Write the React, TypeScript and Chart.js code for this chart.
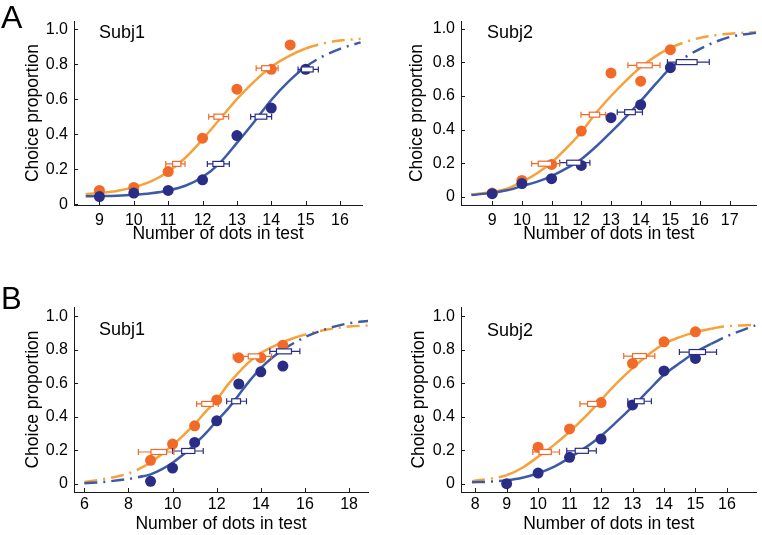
import React, { useEffect, useRef } from 'react';
import { Chart, registerables } from 'chart.js';

Chart.register(...registerables);

// ---------------- Data ----------------
const Y_TICKS = [0, 0.2, 0.4, 0.6, 0.8, 1.0];
const Y_TICK_LABELS = ['0', '0.2', '0.4', '0.6', '0.8', '1.0'];

// marker rows: [y, boxLow, boxHigh, whiskerLow, whiskerHigh]
type MarkerRow = [number, number, number, number, number];

// Panel A, Subj1
const A1_X_TICKS = [9, 10, 11, 12, 13, 14, 15, 16];
const A1_CURVE_X = [8.6, 9, 9.5, 10, 10.5, 11, 11.5, 12, 12.5, 13, 13.5, 14, 14.5, 15, 15.5, 16, 16.6];
const A1_ORANGE_CURVE_Y = [0.058, 0.064, 0.075, 0.097, 0.13, 0.185, 0.265, 0.37, 0.485, 0.6, 0.7, 0.785, 0.845, 0.89, 0.918, 0.935, 0.945];
const A1_BLUE_CURVE_Y = [0.045, 0.046, 0.048, 0.053, 0.062, 0.078, 0.105, 0.155, 0.235, 0.35, 0.47, 0.595, 0.7, 0.785, 0.845, 0.888, 0.925];
const A1_ORANGE_SOLID = [8.6, 15];
const A1_BLUE_SOLID = [8.6, 15];
const A1_ORANGE_DOT_X = [9, 10, 11, 12, 13, 14, 14.55];
const A1_ORANGE_DOT_Y = [0.078, 0.095, 0.186, 0.377, 0.657, 0.771, 0.91];
const A1_BLUE_DOT_X = [9, 10, 11, 12, 13, 14, 15];
const A1_BLUE_DOT_Y = [0.043, 0.063, 0.078, 0.139, 0.392, 0.549, 0.771];
const A1_ORANGE_MARKERS: MarkerRow[] = [[0.23, 11.13, 11.37, 10.93, 11.49], [0.5, 12.33, 12.6, 12.18, 12.76], [0.777, 13.72, 13.98, 13.56, 14.2]];
const A1_BLUE_MARKERS: MarkerRow[] = [[0.23, 12.3, 12.62, 12.14, 12.78], [0.5, 13.53, 13.87, 13.4, 14.01], [0.77, 14.88, 15.22, 14.78, 15.37]];

// Panel A, Subj2
const A2_X_TICKS = [9, 10, 11, 12, 13, 14, 15, 16, 17];
const A2_CURVE_X = [8.3, 9, 9.5, 10, 10.5, 11, 11.5, 12, 12.5, 13, 13.5, 14, 14.5, 15, 15.5, 16, 16.5, 17, 17.9];
const A2_ORANGE_CURVE_Y = [0.015, 0.03, 0.05, 0.09, 0.14, 0.205, 0.29, 0.385, 0.5, 0.6, 0.69, 0.77, 0.835, 0.885, 0.92, 0.945, 0.96, 0.97, 0.978];
const A2_BLUE_CURVE_Y = [0.012, 0.025, 0.04, 0.065, 0.09, 0.125, 0.17, 0.225, 0.3, 0.385, 0.475, 0.57, 0.67, 0.765, 0.83, 0.88, 0.92, 0.95, 0.975];
const A2_ORANGE_SOLID = [8.3, 15];
const A2_BLUE_SOLID = [8.3, 15];
const A2_ORANGE_DOT_X = [9, 10, 11, 12, 13, 14, 15];
const A2_ORANGE_DOT_Y = [0.024, 0.099, 0.194, 0.392, 0.736, 0.688, 0.875];
const A2_BLUE_DOT_X = [9, 10, 11, 12, 13, 14, 15];
const A2_BLUE_DOT_Y = [0.02, 0.08, 0.109, 0.188, 0.471, 0.548, 0.768];
const A2_ORANGE_MARKERS: MarkerRow[] = [[0.198, 10.55, 11.0, 10.33, 11.27], [0.489, 12.27, 12.62, 11.99, 12.82], [0.782, 13.87, 14.39, 13.57, 14.65]];
const A2_BLUE_MARKERS: MarkerRow[] = [[0.204, 11.51, 11.99, 11.27, 12.29], [0.504, 13.46, 13.82, 13.21, 14.06], [0.801, 15.2, 15.9, 14.9, 16.31]];

// Panel B, Subj1
const B1_X_TICKS = [6, 8, 10, 12, 14, 16, 18];
const B1_ORANGE_CURVE_X = [6, 7, 8, 8.8, 9, 9.5, 10, 10.5, 11, 11.5, 12, 12.5, 13, 13.5, 14, 14.5, 15, 15.5, 16, 17, 18, 18.9];
const B1_ORANGE_CURVE_Y = [0.01, 0.03, 0.06, 0.11, 0.125, 0.175, 0.23, 0.29, 0.355, 0.43, 0.5, 0.59, 0.665, 0.73, 0.78, 0.815, 0.845, 0.87, 0.89, 0.92, 0.938, 0.945];
const B1_BLUE_CURVE_X = [6, 7, 8, 8.7, 9, 9.5, 10, 10.5, 11, 11.5, 12, 12.5, 13, 13.5, 14, 14.5, 15, 15.5, 16, 17, 18, 18.9];
const B1_BLUE_CURVE_Y = [0.002, 0.012, 0.028, 0.045, 0.055, 0.085, 0.125, 0.175, 0.235, 0.3, 0.375, 0.445, 0.53, 0.615, 0.69, 0.75, 0.8, 0.84, 0.875, 0.925, 0.958, 0.972];
const B1_ORANGE_SOLID = [8.8, 15.5];
const B1_BLUE_SOLID = [8.7, 15];
const B1_ORANGE_DOT_X = [9, 10, 11, 12, 13, 14, 15];
const B1_ORANGE_DOT_Y = [0.139, 0.236, 0.345, 0.5, 0.752, 0.752, 0.827];
const B1_BLUE_DOT_X = [9, 10, 11, 12, 13, 14, 15];
const B1_BLUE_DOT_Y = [0.014, 0.093, 0.246, 0.375, 0.595, 0.668, 0.702];
const B1_ORANGE_MARKERS: MarkerRow[] = [[0.189, 9.02, 9.73, 8.45, 10.06], [0.476, 11.32, 11.84, 11.09, 12.07], [0.76, 13.43, 13.96, 12.75, 14.49]];
const B1_BLUE_MARKERS: MarkerRow[] = [[0.195, 10.41, 11.01, 10.0, 11.39], [0.492, 12.68, 13.08, 12.45, 13.35], [0.79, 14.71, 15.39, 14.41, 15.77]];

// Panel B, Subj2
const B2_X_TICKS = [8, 9, 10, 11, 12, 13, 14, 15, 16];
const B2_CURVE_X = [7.9, 8.5, 9, 9.5, 10, 10.5, 11, 11.5, 12, 12.5, 13, 13.5, 14, 14.5, 15, 15.5, 16, 16.9];
const B2_ORANGE_CURVE_Y = [0.015, 0.03, 0.05, 0.095, 0.16, 0.23, 0.31, 0.4, 0.5, 0.6, 0.69, 0.77, 0.835, 0.875, 0.905, 0.925, 0.94, 0.948];
const B2_BLUE_CURVE_Y = [0.008, 0.012, 0.02, 0.035, 0.062, 0.1, 0.155, 0.215, 0.285, 0.37, 0.46, 0.555, 0.65, 0.72, 0.785, 0.835, 0.88, 0.945];
const B2_ORANGE_SOLID = [9, 15.5];
const B2_BLUE_SOLID = [9, 15.5];
const B2_ORANGE_DOT_X = [10, 11, 12, 13, 14, 15];
const B2_ORANGE_DOT_Y = [0.218, 0.327, 0.484, 0.718, 0.847, 0.907];
const B2_BLUE_DOT_X = [9, 10, 11, 12, 13, 14, 15];
const B2_BLUE_DOT_Y = [0.0, 0.063, 0.157, 0.266, 0.47, 0.673, 0.748];
const B2_ORANGE_MARKERS: MarkerRow[] = [[0.189, 10.03, 10.42, 9.83, 10.68], [0.476, 11.57, 11.88, 11.33, 12.09], [0.762, 13.0, 13.44, 12.72, 13.71]];
const B2_BLUE_MARKERS: MarkerRow[] = [[0.196, 11.18, 11.6, 10.91, 11.85], [0.492, 13.06, 13.37, 12.85, 13.6], [0.786, 14.8, 15.32, 14.49, 15.67]];

// ---------------- Styles ----------------
const FONT = '"Liberation Sans", Arial, Helvetica, sans-serif';
const ORANGE_LINE = '#F6A13A';
const ORANGE_DOT = '#F26A28';
const BLUE_LINE = '#3C5AA6';
const BLUE_DOT = '#2A2D86';
const AXIS = '#1a1a1a';
const DASH = [13, 6, 2, 6];

const pts = (xs: number[], ys: number[]) => xs.map((x, i) => ({ x, y: ys[i] }));

const markerPlugin = {
  id: 'boxMarkers',
  afterDatasetsDraw(chart: any, _args: any, opts: any) {
    const { ctx } = chart;
    const xs = chart.scales.x;
    const ys = chart.scales.y;
    (opts.groups || []).forEach((g: any) => {
      ctx.save();
      ctx.strokeStyle = g.color;
      ctx.lineWidth = 1.2;
      ctx.fillStyle = '#ffffff';
      g.rows.forEach((r: MarkerRow) => {
        const py = ys.getPixelForValue(r[0]);
        const b0 = xs.getPixelForValue(r[1]);
        const b1 = xs.getPixelForValue(r[2]);
        const w0 = xs.getPixelForValue(r[3]);
        const w1 = xs.getPixelForValue(r[4]);
        ctx.beginPath();
        ctx.moveTo(w0, py); ctx.lineTo(b0, py);
        ctx.moveTo(b1, py); ctx.lineTo(w1, py);
        ctx.moveTo(w0, py - 3); ctx.lineTo(w0, py + 3);
        ctx.moveTo(w1, py - 3); ctx.lineTo(w1, py + 3);
        ctx.stroke();
        ctx.fillRect(b0, py - 2.5, b1 - b0, 5);
        ctx.strokeRect(b0, py - 2.5, b1 - b0, 5);
      });
      ctx.restore();
    });
  },
  afterDraw(chart: any) {
    const { ctx } = chart;
    const xs = chart.scales.x;
    const ys = chart.scales.y;
    ctx.save();
    ctx.strokeStyle = AXIS;
    ctx.lineWidth = 1;
    ctx.beginPath();
    xs.ticks.forEach((t: any) => {
      const px = Math.round(xs.getPixelForValue(t.value)) + 0.5;
      ctx.moveTo(px, xs.top);
      ctx.lineTo(px, xs.top - 4);
    });
    ys.ticks.forEach((t: any) => {
      const py = Math.round(ys.getPixelForValue(t.value)) + 0.5;
      ctx.moveTo(ys.right, py);
      ctx.lineTo(ys.right + 4, py);
    });
    ctx.stroke();
    ctx.restore();
  },
};

interface PanelSpec {
  left: number; top: number; width: number; height: number;
  padTop: number; padRight: number; yWidth: number; xHeight: number;
  xMin: number; xMax: number; yMin: number; yMax: number;
  xTicks: number[];
  orangeCurveX: number[]; orangeCurveY: number[]; orangeSolid: number[];
  blueCurveX: number[]; blueCurveY: number[]; blueSolid: number[];
  orangeDotX: number[]; orangeDotY: number[];
  blueDotX: number[]; blueDotY: number[];
  orangeMarkers: MarkerRow[]; blueMarkers: MarkerRow[];
  yTitlePad: number; xTitlePad: number; xTickPad: number;
}

const segDash = (range: number[]) => (ctx: any) => {
  const a = ctx.p0.parsed.x;
  const b = ctx.p1.parsed.x;
  return a >= range[0] - 1e-9 && b <= range[1] + 1e-9 ? [] : DASH;
};

function Panel({ spec }: { spec: PanelSpec }) {
  const ref = useRef<HTMLCanvasElement | null>(null);
  useEffect(() => {
    if (!ref.current) return;
    const chart = new Chart(ref.current, {
      type: 'scatter',
      data: {
        datasets: [
          {
            data: pts(spec.blueDotX, spec.blueDotY),
            backgroundColor: BLUE_DOT, borderWidth: 0, pointRadius: 5.5, order: 1,
          } as any,
          {
            data: pts(spec.orangeDotX, spec.orangeDotY),
            backgroundColor: ORANGE_DOT, borderWidth: 0, pointRadius: 5.5, order: 2,
          } as any,
          {
            data: pts(spec.blueCurveX, spec.blueCurveY),
            showLine: true, borderColor: BLUE_LINE, borderWidth: 2.5, pointRadius: 0,
            cubicInterpolationMode: 'monotone', fill: false, order: 3,
            segment: { borderDash: segDash(spec.blueSolid) },
          } as any,
          {
            data: pts(spec.orangeCurveX, spec.orangeCurveY),
            showLine: true, borderColor: ORANGE_LINE, borderWidth: 2.5, pointRadius: 0,
            cubicInterpolationMode: 'monotone', fill: false, order: 4,
            segment: { borderDash: segDash(spec.orangeSolid) },
          } as any,
        ],
      },
      options: {
        responsive: false,
        animation: false,
        events: [],
        layout: { padding: { left: 0, right: spec.padRight, top: spec.padTop, bottom: 0 } },
        plugins: {
          legend: { display: false },
          tooltip: { enabled: false },
          boxMarkers: {
            groups: [
              { color: BLUE_DOT, rows: spec.blueMarkers },
              { color: ORANGE_DOT, rows: spec.orangeMarkers },
            ],
          },
        } as any,
        scales: {
          x: {
            type: 'linear',
            min: spec.xMin,
            max: spec.xMax,
            afterBuildTicks: (s: any) => { s.ticks = spec.xTicks.map((v) => ({ value: v })); },
            afterFit: (s: any) => { s.height = spec.xHeight; },
            grid: { display: false, drawTicks: false },
            border: { display: true, color: AXIS, width: 1 },
            ticks: {
              color: '#000', font: { family: FONT, size: 16 }, padding: spec.xTickPad,
              maxRotation: 0, autoSkip: false,
              callback: (v: any) => String(v),
            },
            title: {
              display: true, text: 'Number of dots in test', color: '#000',
              font: { family: FONT, size: 17.5 }, padding: { top: 0, bottom: spec.xTitlePad },
            },
          } as any,
          y: {
            type: 'linear',
            min: spec.yMin,
            max: spec.yMax,
            afterBuildTicks: (s: any) => { s.ticks = Y_TICKS.map((v) => ({ value: v })); },
            afterFit: (s: any) => { s.width = spec.yWidth; },
            grid: { display: false, drawTicks: false },
            border: { display: true, color: AXIS, width: 1 },
            ticks: {
              color: '#000', font: { family: FONT, size: 16 }, padding: 6, autoSkip: false,
              callback: (_v: any, i: number) => Y_TICK_LABELS[i],
            },
            title: {
              display: true, text: 'Choice proportion', color: '#000',
              font: { family: FONT, size: 17.5 }, padding: { top: spec.yTitlePad, bottom: 0 },
            },
          } as any,
        },
      },
      plugins: [markerPlugin as any],
    });
    return () => chart.destroy();
  }, [spec]);
  return (
    <canvas
      ref={ref}
      width={spec.width}
      height={spec.height}
      style={{ position: 'absolute', left: spec.left, top: spec.top, width: spec.width, height: spec.height, display: 'block' }}
    />
  );
}

const PANELS: PanelSpec[] = [
  {
    left: 0, top: 0, width: 381, height: 252, padTop: 21, padRight: 19, yWidth: 74, xHeight: 47,
    xMin: 8.26, xMax: 16.64, yMin: -0.005, yMax: 1.047, xTicks: A1_X_TICKS,
    orangeCurveX: A1_CURVE_X, orangeCurveY: A1_ORANGE_CURVE_Y, orangeSolid: A1_ORANGE_SOLID,
    blueCurveX: A1_CURVE_X, blueCurveY: A1_BLUE_CURVE_Y, blueSolid: A1_BLUE_SOLID,
    orangeDotX: A1_ORANGE_DOT_X, orangeDotY: A1_ORANGE_DOT_Y, blueDotX: A1_BLUE_DOT_X, blueDotY: A1_BLUE_DOT_Y,
    orangeMarkers: A1_ORANGE_MARKERS, blueMarkers: A1_BLUE_MARKERS,
    yTitlePad: 23, xTitlePad: 7.5, xTickPad: 6,
  },
  {
    left: 381, top: 0, width: 381, height: 252, padTop: 21, padRight: 1, yWidth: 80, xHeight: 47,
    xMin: 7.95, xMax: 17.9, yMin: -0.047, yMax: 1.045, xTicks: A2_X_TICKS,
    orangeCurveX: A2_CURVE_X, orangeCurveY: A2_ORANGE_CURVE_Y, orangeSolid: A2_ORANGE_SOLID,
    blueCurveX: A2_CURVE_X, blueCurveY: A2_BLUE_CURVE_Y, blueSolid: A2_BLUE_SOLID,
    orangeDotX: A2_ORANGE_DOT_X, orangeDotY: A2_ORANGE_DOT_Y, blueDotX: A2_BLUE_DOT_X, blueDotY: A2_BLUE_DOT_Y,
    orangeMarkers: A2_ORANGE_MARKERS, blueMarkers: A2_BLUE_MARKERS,
    yTitlePad: 26, xTitlePad: 7.5, xTickPad: 6,
  },
  {
    left: 0, top: 260, width: 381, height: 275, padTop: 47, padRight: 13, yWidth: 74, xHeight: 43,
    xMin: 5.53, xMax: 18.86, yMin: -0.05, yMax: 1.055, xTicks: B1_X_TICKS,
    orangeCurveX: B1_ORANGE_CURVE_X, orangeCurveY: B1_ORANGE_CURVE_Y, orangeSolid: B1_ORANGE_SOLID,
    blueCurveX: B1_BLUE_CURVE_X, blueCurveY: B1_BLUE_CURVE_Y, blueSolid: B1_BLUE_SOLID,
    orangeDotX: B1_ORANGE_DOT_X, orangeDotY: B1_ORANGE_DOT_Y, blueDotX: B1_BLUE_DOT_X, blueDotY: B1_BLUE_DOT_Y,
    orangeMarkers: B1_ORANGE_MARKERS, blueMarkers: B1_BLUE_MARKERS,
    yTitlePad: 23, xTitlePad: 0, xTickPad: 3,
  },
  {
    left: 381, top: 260, width: 381, height: 275, padTop: 47, padRight: 1, yWidth: 80, xHeight: 43,
    xMin: 7.55, xMax: 16.94, yMin: -0.05, yMax: 1.055, xTicks: B2_X_TICKS,
    orangeCurveX: B2_CURVE_X, orangeCurveY: B2_ORANGE_CURVE_Y, orangeSolid: B2_ORANGE_SOLID,
    blueCurveX: B2_CURVE_X, blueCurveY: B2_BLUE_CURVE_Y, blueSolid: B2_BLUE_SOLID,
    orangeDotX: B2_ORANGE_DOT_X, orangeDotY: B2_ORANGE_DOT_Y, blueDotX: B2_BLUE_DOT_X, blueDotY: B2_BLUE_DOT_Y,
    orangeMarkers: B2_ORANGE_MARKERS, blueMarkers: B2_BLUE_MARKERS,
    yTitlePad: 28, xTitlePad: 0, xTickPad: 3,
  },
];

const LABELS = [
  { text: 'A', left: 1, top: 1, size: 32 },
  { text: 'B', left: 1, top: 283, size: 31 },
  { text: 'Subj1', left: 99, top: 22.6, size: 18 },
  { text: 'Subj2', left: 487, top: 22.6, size: 18 },
  { text: 'Subj1', left: 99, top: 319.6, size: 18 },
  { text: 'Subj2', left: 487, top: 320.6, size: 18 },
];

export default function App() {
  return (
    <div style={{ position: 'absolute', left: 0, top: 0, width: 762, height: 535, background: '#ffffff', overflow: 'hidden' }}>
      {PANELS.map((p, i) => <Panel key={i} spec={p} />)}
      {LABELS.map((l, i) => (
        <div
          key={'l' + i}
          style={{
            position: 'absolute', left: l.left, top: l.top, fontFamily: FONT, fontSize: l.size,
            lineHeight: `${l.size}px`, color: '#000', whiteSpace: 'nowrap',
          }}
        >
          {l.text}
        </div>
      ))}
    </div>
  );
}
